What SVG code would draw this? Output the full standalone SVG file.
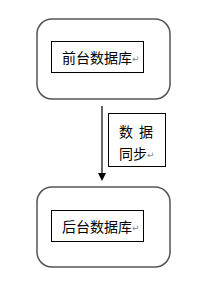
<svg xmlns="http://www.w3.org/2000/svg" width="209" height="282" viewBox="0 0 209 282">
<defs>
<style>
.outer{fill:#fff;stroke:#555;stroke-width:1.5}
.inner{fill:#fff;stroke:#000;stroke-width:1}
.t{font-family:"Noto Sans CJK SC","Noto Sans CJK JP",sans-serif;font-size:14px;fill:#000}
.ret{font-family:"DejaVu Sans",sans-serif;font-size:9px;fill:#888}
.line{stroke:#000;stroke-width:1.2;fill:none}
</style>
</defs>
<rect width="209" height="282" fill="#fff"/>
<g id="front">
<rect class="outer" x="37" y="19" width="133" height="80" rx="15"/>
<rect class="inner" x="51.5" y="41.5" width="92" height="31"/>
<text class="t" x="62" y="63">前台数据库</text>
<text class="ret" x="132" y="62">↵</text>
</g>
<g id="back">
<rect class="outer" x="37" y="187" width="133" height="80" rx="15"/>
<rect class="inner" x="51.5" y="210.5" width="92" height="31"/>
<text class="t" x="62" y="232">后台数据库</text>
<text class="ret" x="132" y="231">↵</text>
</g>
<g id="label">
<rect class="inner" x="108.5" y="113.5" width="57" height="53"/>
<text class="t" x="119" y="137">数<tspan x="139">据</tspan></text>
<text class="t" x="119" y="159">同步</text>
<text class="ret" x="147" y="158">↵</text>
</g>
<g id="connectors">
<line class="line" x1="102" y1="106" x2="102" y2="175"/>
<path d="M98,173 L106,173 L102,181 Z" fill="#000"/>
</g>
</svg>
